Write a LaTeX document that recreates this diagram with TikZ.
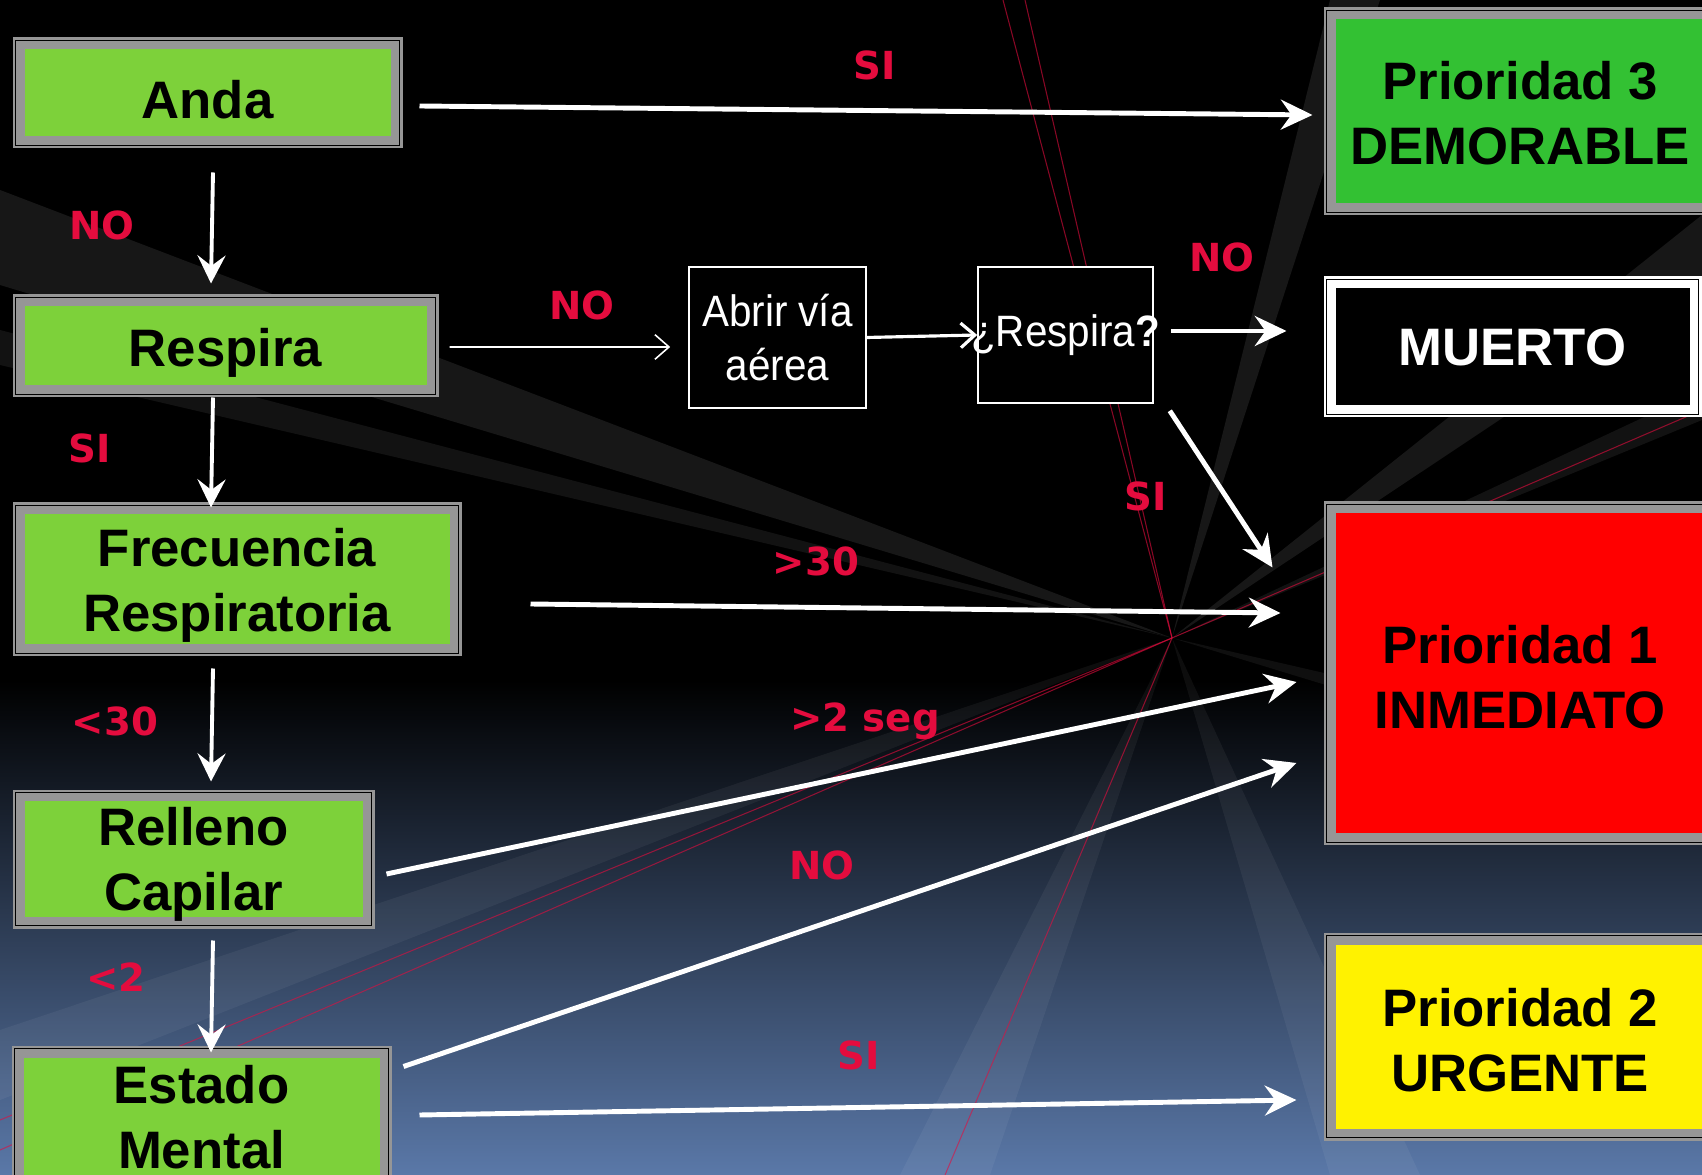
\documentclass[tikz,border=0pt]{standalone}
\usepackage{fontspec}
\setmainfont{Liberation Sans}
\newfontfamily\lblfont{DejaVu Sans}
\newfontfamily\thinfont{Liberation Sans}[FakeStretch=0.92]
\usetikzlibrary{arrows.meta}
\definecolor{boxgreen}{RGB}{125,209,58}
\definecolor{darkgreen}{RGB}{51,193,51}
\definecolor{boxgray}{RGB}{150,150,150}
\definecolor{lblred}{RGB}{228,12,62}
\definecolor{bgblue}{RGB}{90,120,168}
\begin{document}
\begin{tikzpicture}[x=0.1mm, y=-0.1mm,
    tbox/.style 2 args={rectangle, draw=#2, fill=#2, line width=0.1mm, inner sep=0pt,
      path picture={
        \draw[black, line width=0.12mm] ([shift={(0.22mm,0.22mm)}]path picture bounding box.south west)
          rectangle ([shift={(-0.22mm,-0.22mm)}]path picture bounding box.north east);
        \fill[#1] ([shift={(1.15mm,1.15mm)}]path picture bounding box.south west)
          rectangle ([shift={(-1.15mm,-1.15mm)}]path picture bounding box.north east);}},
    boxtext/.style={align=center, inner sep=0pt, font=\bfseries\fontsize{15}{18.5}\selectfont},
    sbox/.style={rectangle, draw=white, fill=black, line width=0.45pt, text=white, align=center,
      font=\thinfont\fontsize{12.5}{15.5}\selectfont, inner sep=0pt},
    lbl/.style={text=lblred, font=\lblfont\bfseries\fontsize{11}{13}\selectfont},
    bigarrow/.style={draw=white, line width=1.4pt, -{Stealth[length=9pt,width=8.5pt,inset=3pt]}},
    downarrow/.style={draw=white, line width=1.1pt, -{Stealth[length=8pt,width=8pt,inset=3pt]}},
    thinarrow/.style={draw=white, line width=#1, -{Straight Barb[length=4pt,width=7pt]}},
    ray/.style={fill=white, opacity=#1},
    redray/.style={draw=lblred, line width=0.3pt, opacity=0.6}]
    \useasboundingbox (0,0) rectangle (1702,1175);
    \clip (0,0) rectangle (1702,1175);
    % background
    \fill[black] (0,0) rectangle (1702,1175);
    \shade[top color=black, bottom color=bgblue] (0,680) rectangle (1702,1175);
    \coordinate (hub) at (1172,638);
    \fill[ray=0.09] (hub) -- (0,190) -- (0,285) -- cycle;
    \fill[ray=0.07] (hub) -- (0,330) -- (0,365) -- cycle;
    \fill[ray=0.09] (hub) -- (1330,0) -- (1380,0) -- cycle;
    \fill[ray=0.09] (hub) -- (1702,215) -- (1702,285) -- cycle;
    \fill[ray=0.07] (hub) -- (1702,390) -- (1702,420) -- cycle;
    \fill[ray=0.06] (hub) -- (1702,760) -- (1702,800) -- cycle;
    \fill[ray=0.05] (hub) -- (900,1175) -- (990,1175) -- cycle;
    \fill[ray=0.05] (hub) -- (1330,1175) -- (1420,1175) -- cycle;
    \fill[ray=0.05] (hub) -- (0,1030) -- (0,1100) -- cycle;
    \draw[redray] (hub) -- (1003,0);
    \draw[redray] (hub) -- (1025,0);
    \draw[redray] (hub) -- (0,1120);
    \draw[redray] (hub) -- (0,1150);
    \draw[redray] (hub) -- (1702,410);
    \draw[redray] (hub) -- (945,1175);

    % left column
    \node[tbox={boxgreen}{boxgray}, minimum width=38.9mm, minimum height=11mm,
      label={[boxtext, yshift=-2pt]center:Anda}] (anda) at (207.5,93) {};
    \node[tbox={boxgreen}{boxgray}, minimum width=42.5mm, minimum height=10.2mm,
      label={[boxtext, yshift=-2pt]center:Respira}] (respira) at (225.5,346) {};
    \node[tbox={boxgreen}{boxgray}, minimum width=44.8mm, minimum height=15.3mm,
      label={[boxtext, yshift=-1.8pt]center:{Frecuencia\\Respiratoria}}] (frec) at (237,579.5) {};
    \node[tbox={boxgreen}{boxgray}, minimum width=36.1mm, minimum height=13.8mm,
      label={[boxtext, yshift=-1.5pt]center:{Relleno\\Capilar}}] (relleno) at (193.5,859) {};
    \node[tbox={boxgreen}{boxgray}, minimum width=37.9mm, minimum height=14.2mm,
      label={[boxtext]center:{Estado\\Mental}}] (estado) at (201.5,1117) {};

    % middle
    \node[sbox, minimum width=17.7mm, minimum height=14.1mm] (abrir) at (777.5,337.5) {Abrir vía\\aérea};
    \node[sbox, minimum width=17.5mm, minimum height=13.6mm] (resp2) at (1065.5,335) {\makebox[0pt]{¿Respira\textbf{?}}};

    % right column
    \node[tbox={darkgreen}{boxgray}, minimum width=39.2mm, minimum height=20.7mm,
      label={[boxtext, yshift=-0.6pt]center:{Prioridad 3\\DEMORABLE}}] (p3) at (1520,111.5) {};
    \node[tbox={black}{white}, minimum width=37.7mm, minimum height=14mm,
      label={[boxtext, text=white]center:MUERTO}] (muerto) at (1512.5,347) {};
    \node[tbox={red}{boxgray}, minimum width=39.2mm, minimum height=34.3mm,
      label={[boxtext, yshift=-1pt]center:{Prioridad 1\\INMEDIATO}}] (p1) at (1520,673.5) {};
    \node[tbox={yellow}{boxgray}, minimum width=39.2mm, minimum height=20.7mm,
      label={[boxtext, yshift=-0.9pt]center:{Prioridad 2\\URGENTE}}] (p2) at (1520,1036.5) {};

    % connectors
    \draw[bigarrow] ([shift={(17,13)}]anda.east) -- ([shift={(-11,3.5)}]p3.west);
    \draw[downarrow] ([shift={(5.5,24)}]anda.south) -- ([shift={(-14.5,-11)}]respira.north);
    \draw[thinarrow=0.45pt] ([shift={(11,1)}]respira.east) -- ([shift={(-18,9.5)}]abrir.west);
    \draw[thinarrow=0.9pt] (abrir.east) -- (resp2.west);
    \draw[bigarrow] ([shift={(17,-4)}]resp2.east) -- ([shift={(-37,-16)}]muerto.west);
    \draw[bigarrow] ([shift={(16,7)}]resp2.south east) -- ([shift={(-51,66)}]p1.north west);
    \draw[downarrow] ([shift={(-12.5,0)}]respira.south) -- ([shift={(-26,5)}]frec.north);
    \draw[bigarrow] ([shift={(69,24.5)}]frec.east) -- ([shift={(-43,-60.5)}]p1.west);
    \draw[downarrow] ([shift={(-24,12)}]frec.south) -- ([shift={(17.5,-8)}]relleno.north);
    \draw[bigarrow] ([shift={(12,15)}]relleno.east) -- ([shift={(-27,8.5)}]p1.west);
    \draw[downarrow] ([shift={(19.5,12)}]relleno.south) -- ([shift={(9.5,7)}]estado.north);
    \draw[bigarrow] ([shift={(12,21)}]estado.north east) -- ([shift={(-27,89.5)}]p1.west);
    \draw[bigarrow] ([shift={(28,-2)}]estado.east) -- ([shift={(-27,63.5)}]p2.west);

    % labels
    \node[lbl] (si1) at (875,65) {SI};
    \node[lbl] (no1) at (102,225) {NO};
    \node[lbl] (no2) at (582,305) {NO};
    \node[lbl] (no3) at (1222,257) {NO};
    \node[lbl] (si2) at (90,448) {SI};
    \node[lbl] (si3) at (1146,496) {SI};
    \node[lbl] (gt30) at (816,561) {>30};
    \node[lbl] (lt30) at (115,721) {<30};
    \node[lbl] (gt2) at (865,721) {>2 seg};
    \node[lbl] (no4) at (822,865) {NO};
    \node[lbl] (lt2) at (116,977) {<2};
    \node[lbl] (si4) at (859,1055) {SI};
\end{tikzpicture}
\end{document}
